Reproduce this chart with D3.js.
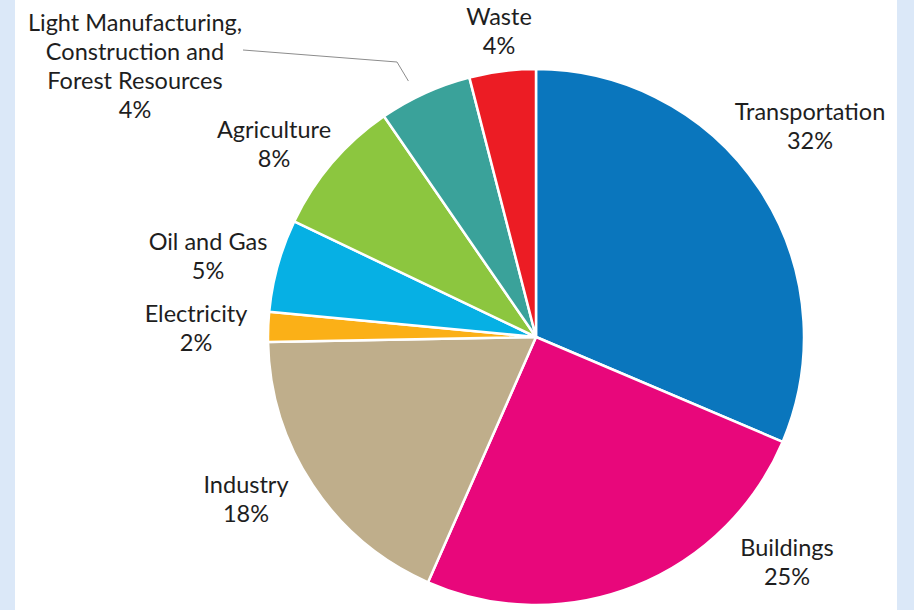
<!DOCTYPE html>
<html>
<head>
<meta charset="utf-8">
<script src="https://cdn.jsdelivr.net/npm/d3@7"></script>
<style>
  body { margin: 0; background: #dbe8f8; }
  svg { display: block; }
</style>
</head>
<body>
<div id="chart"></div>
<script>
// sectors, clockwise from 12 o'clock
var sectors = ["Transportation", "Buildings", "Industry", "Electricity",
               "Oil and Gas", "Agriculture",
               "Light Manufacturing, Construction and Forest Resources", "Waste"];
// slice sizes (share of total)
var values = [31.4, 25.2, 18.1, 1.8, 5.6, 8.3, 5.6, 4.0];
// percentages printed on the labels
var pctLabels = ["32%", "25%", "18%", "2%", "5%", "8%", "4%", "4%"];
var colors = ["#0a76bd", "#e8077b", "#bfae8b", "#fbb017", "#06b0e4", "#8cc63f", "#3aa29a", "#ec1c24"];

// label text lines and anchor spots
var labelLines = [
  ["Transportation"], ["Buildings"], ["Industry"], ["Electricity"],
  ["Oil and Gas"], ["Agriculture"],
  ["Light Manufacturing,", "Construction and", "Forest Resources"], ["Waste"]
];
var labelPos = [[810, 120], [787, 556], [246, 493], [196, 322], [208, 250], [274, 138], [135, 31], [499, 25]];

var width = 914, height = 610;
var cx = 536, cy = 337, radius = 268;

var svg = d3.select("#chart")
  .append("svg")
    .attr("width", width)
    .attr("height", height);

// white panel
svg.append("rect")
  .attr("x", 15)
  .attr("y", 0)
  .attr("width", 882)
  .attr("height", height)
  .attr("fill", "#ffffff");

var pie = d3.pie().sort(null).value(function(d) { return d; });
var arc = d3.arc().innerRadius(0).outerRadius(radius);

var g = svg.append("g")
  .attr("transform", "translate(" + cx + "," + cy + ")");

g.selectAll("path")
  .data(pie(values))
  .join("path")
    .attr("d", arc)
    .attr("fill", function(d, i) { return colors[i]; })
    .attr("stroke", "#ffffff")
    .attr("stroke-width", 2.5)
    .attr("stroke-linejoin", "round");

// leader line for the small Light Manufacturing label
var lm = pie(values)[6];
var ang = lm.startAngle + (lm.endAngle - lm.startAngle) * 0.4;
var edge = [cx + Math.sin(ang) * (radius + 18), cy - Math.cos(ang) * (radius + 18)];
svg.append("path")
  .attr("d", d3.line()([[243, 50], [397, 62], edge]))
  .attr("fill", "none")
  .attr("stroke", "#8c8c8c")
  .attr("stroke-width", 1);

// labels
var lineH = 29;
sectors.forEach(function(name, i) {
  var t = svg.append("text")
    .attr("x", labelPos[i][0])
    .attr("y", labelPos[i][1])
    .attr("text-anchor", "middle")
    .attr("font-family", "Lato, 'Open Sans', sans-serif")
    .attr("font-size", 23.5)
    .attr("fill", "#1e1e1e");
  var lines = labelLines[i].concat([pctLabels[i]]);
  lines.forEach(function(s, j) {
    t.append("tspan")
      .attr("x", labelPos[i][0])
      .attr("dy", j ? lineH : 0)
      .text(s);
  });
});
</script>
</body>
</html>
